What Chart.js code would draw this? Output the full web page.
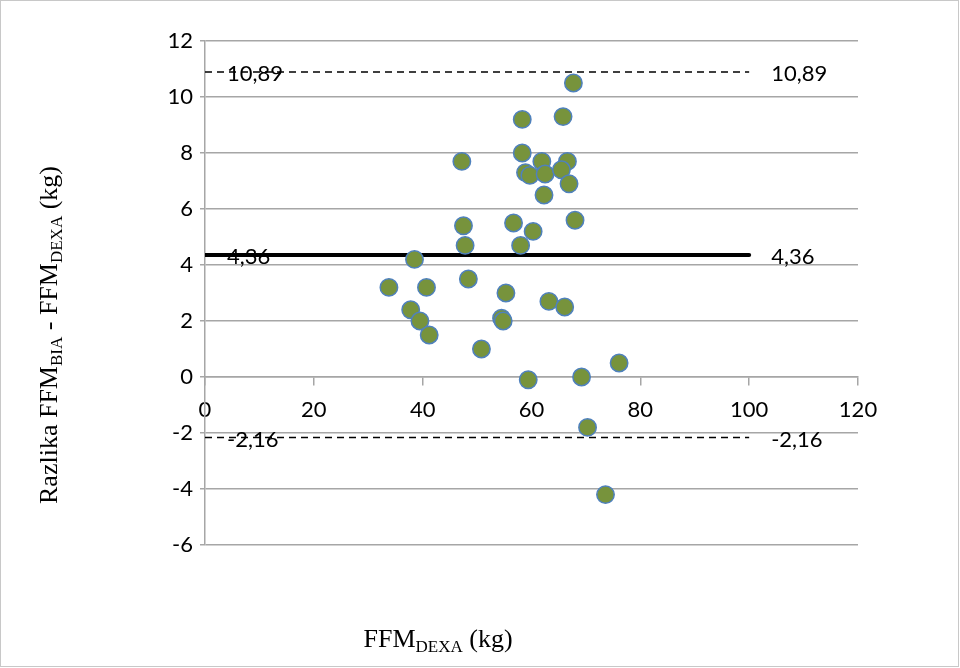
<!DOCTYPE html>
<html>
<head>
<meta charset="utf-8">
<script src="https://cdn.jsdelivr.net/npm/chart.js@4.4.0/dist/chart.umd.min.js"></script>
<style>
  html, body { margin: 0; padding: 0; background: #fff; }
  canvas { display: block; }
</style>
</head>
<body>
<canvas id="blandAltman" width="960" height="668"></canvas>
<script>
// FFM DEXA (kg) on x, difference BIA - DEXA (kg) on y
const ffmDexa = [67.7, 58.3, 65.8, 58.3, 47.2, 61.9, 66.6, 58.9, 59.7, 62.5, 65.5, 66.9, 62.3,
    47.5, 56.7, 60.3, 68.0, 47.8, 58.0, 48.4, 55.3, 63.2, 66.1, 54.5, 54.8, 50.8, 76.1, 59.4, 69.2,
    38.5, 33.8, 40.7, 37.8, 39.5, 41.2, 70.3, 73.6];
const razlika = [10.5, 9.2, 9.3, 8.0, 7.7, 7.7, 7.7, 7.3, 7.2, 7.25, 7.4, 6.9, 6.5,
    5.4, 5.5, 5.2, 5.6, 4.7, 4.7, 3.5, 3.0, 2.7, 2.5, 2.1, 2.0, 1.0, 0.5, -0.1, 0.0,
    4.2, 3.2, 3.2, 2.4, 2.0, 1.5, -1.8, -4.2];

// mean difference and limits of agreement
const linijeY = [10.89, 4.36, -2.16];
const linijeLabel = ['10,89', '4,36', '-2,16'];
const linijeX = [0, 100];

const xTicks = { min: 0, max: 120, step: 20 };
const yTicks = { min: -6, max: 12, step: 2 };

const gridGray = '#a6a6a6';

function lineData(y) {
    return linijeX.map(function (x) { return { x: x, y: y }; });
}

// draw text with subscripts, horizontally centered at (cx, baseline)
function drawRich(ctx, parts, cx, baseline) {
    const mainFont = '26px "Liberation Serif"';
    const subFont = '17px "Liberation Serif"';
    let total = 0;
    parts.forEach(function (p) {
        ctx.font = p.sub ? subFont : mainFont;
        total += ctx.measureText(p.t).width;
    });
    let x = cx - total / 2;
    ctx.textAlign = 'left';
    ctx.textBaseline = 'alphabetic';
    ctx.fillStyle = '#000';
    parts.forEach(function (p) {
        ctx.font = p.sub ? subFont : mainFont;
        ctx.fillText(p.t, x, baseline + (p.sub ? 5 : 0));
        x += ctx.measureText(p.t).width;
    });
}

const decorPlugin = {
    id: 'decor',
    afterDraw: function (chart) {
        const ctx = chart.ctx;
        const xs = chart.scales.x;
        const ys = chart.scales.y;
        ctx.save();

        // limit labels at both ends of the lines
        ctx.font = '22px Lato';
        ctx.fillStyle = '#000';
        ctx.textAlign = 'left';
        ctx.textBaseline = 'middle';
        linijeY.forEach(function (v, i) {
            const py = ys.getPixelForValue(v) + 2;
            ctx.fillText(linijeLabel[i], xs.getPixelForValue(linijeX[0]) + 22, py);
            ctx.fillText(linijeLabel[i], xs.getPixelForValue(linijeX[1]) + 22, py);
        });

        // x title
        drawRich(ctx, [{ t: 'FFM' }, { t: 'DEXA', sub: true }, { t: ' (kg)' }], 438, 647);

        // y title (rotated)
        ctx.translate(57, 335);
        ctx.rotate(-Math.PI / 2);
        drawRich(ctx, [{ t: 'Razlika FFM' }, { t: 'BIA', sub: true }, { t: ' - FFM' },
            { t: 'DEXA', sub: true }, { t: ' (kg)' }], 0, 0);
        ctx.restore();

        // outer frame
        ctx.save();
        ctx.strokeStyle = '#c8c8c8';
        ctx.lineWidth = 1;
        ctx.strokeRect(0.5, 0.5, chart.width - 2, chart.height - 2);
        ctx.restore();
    }
};

document.addEventListener('DOMContentLoaded', function () {
    const points = ffmDexa.map(function (x, i) { return { x: x, y: razlika[i] }; });

    new Chart(document.getElementById('blandAltman'), {
        type: 'scatter',
        data: {
            datasets: [{
                label: 'Razlika',
                data: points,
                backgroundColor: '#77933C',
                borderColor: '#4F81BD',
                borderWidth: 1.5,
                pointRadius: 8.7,
                order: 0
            }, {
                label: '10,89',
                data: lineData(linijeY[0]),
                showLine: true,
                borderColor: '#000',
                borderWidth: 1.5,
                borderDash: [7, 5],
                pointRadius: 0,
                order: 1
            }, {
                label: '4,36',
                data: lineData(linijeY[1]),
                showLine: true,
                borderColor: '#000',
                borderWidth: 4,
                borderCapStyle: 'round',
                pointRadius: 0,
                order: 1
            }, {
                label: '-2,16',
                data: lineData(linijeY[2]),
                showLine: true,
                borderColor: '#000',
                borderWidth: 1.5,
                borderDash: [7, 5],
                pointRadius: 0,
                order: 1
            }]
        },
        options: {
            responsive: false,
            animation: false,
            layout: { padding: { top: 41, right: 102, bottom: 123, left: 0 } },
            plugins: {
                legend: { display: false },
                tooltip: { enabled: false }
            },
            scales: {
                x: {
                    type: 'linear',
                    position: { y: 0 },
                    min: xTicks.min,
                    max: xTicks.max,
                    ticks: {
                        stepSize: xTicks.step,
                        color: '#000',
                        font: { family: 'Lato', size: 22 },
                        padding: 12,
                        maxRotation: 0
                    },
                    grid: {
                        drawOnChartArea: false,
                        drawTicks: true,
                        tickLength: 8,
                        color: gridGray,
                        lineWidth: 1.5
                    },
                    border: { color: gridGray, width: 1.5 }
                },
                y: {
                    min: yTicks.min,
                    max: yTicks.max,
                    ticks: {
                        stepSize: yTicks.step,
                        color: '#000',
                        font: { family: 'Lato', size: 22 },
                        padding: 7
                    },
                    grid: {
                        color: gridGray,
                        lineWidth: 1.5,
                        tickLength: 5
                    },
                    border: { color: gridGray, width: 1.5 },
                    afterFit: function (scale) { scale.width = 205; }
                }
            }
        },
        plugins: [decorPlugin]
    });
});
</script>
</body>
</html>
